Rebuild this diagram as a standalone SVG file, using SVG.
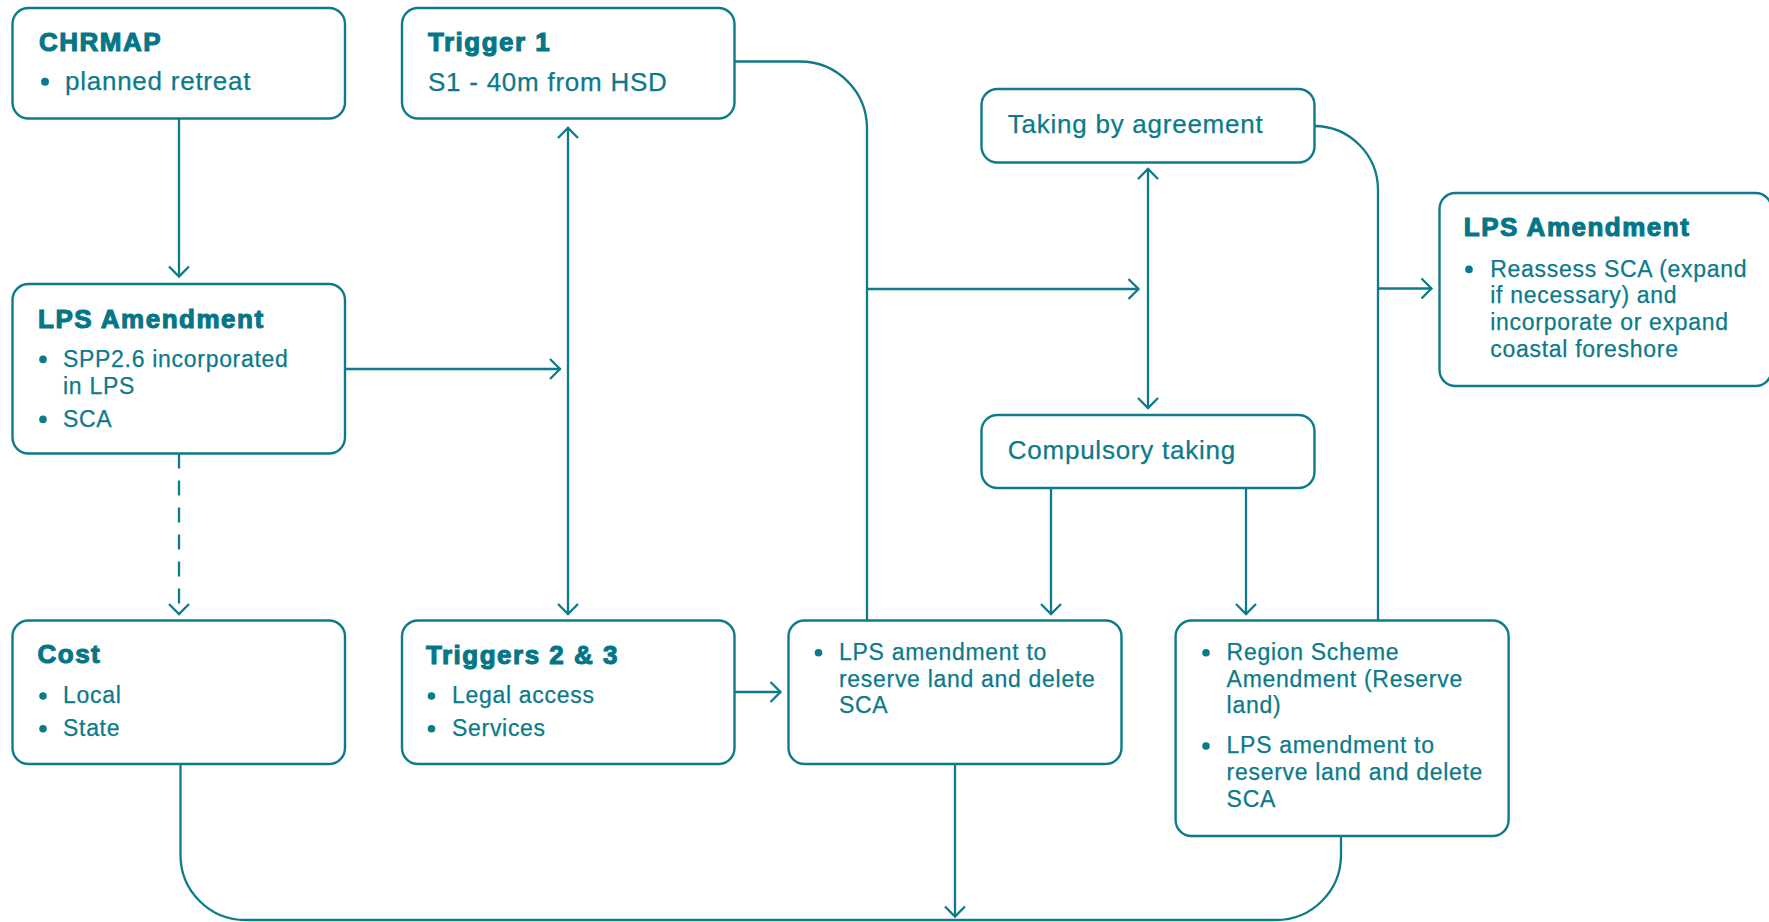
<svg xmlns="http://www.w3.org/2000/svg" width="1769" height="922" viewBox="0 0 1769 922">
<style>
.box{fill:#ffffff;stroke:#0e7b8b;stroke-width:2.4}
.ln{fill:none;stroke:#0e7b8b;stroke-width:2.3}
.title{font-family:"Liberation Sans",Arial,sans-serif;font-weight:700;font-size:26px;fill:#057688;stroke:#057688;stroke-width:1.1;letter-spacing:1.5px}
.big{font-family:"Liberation Sans",Arial,sans-serif;font-size:26px;fill:#0b7a8a;stroke:#0b7a8a;stroke-width:0.25;letter-spacing:0.75px}
.sm{font-family:"Liberation Sans",Arial,sans-serif;font-size:23px;fill:#0b7a8a;stroke:#0b7a8a;stroke-width:0.25;letter-spacing:0.7px}
.dot{fill:#0b7a8a}
</style>
<defs>
<marker id="arr" markerUnits="userSpaceOnUse" markerWidth="30" markerHeight="30" refX="0" refY="0" orient="auto-start-reverse" overflow="visible">
<path d="M-10.5,-10 L-0.5,0 L-10.5,10" fill="none" stroke="#0e7b8b" stroke-width="2.3"/>
</marker>
</defs>
<g id="connectors">
<path class="ln" d="M179,118.5 V277" marker-end="url(#arr)"/>
<path class="ln" d="M345,369 H560.5" marker-end="url(#arr)"/>
<path class="ln" d="M568,127.5 V614.5" marker-start="url(#arr)" marker-end="url(#arr)"/>
<path class="ln" d="M179,453.5 V614.5" stroke-dasharray="15 12" marker-end="url(#arr)"/>
<path class="ln" d="M734.5,692 H781" marker-end="url(#arr)"/>
<path class="ln" d="M734.5,61.5 H800 A67,67 0 0 1 867,128.5 V620.5"/>
<path class="ln" d="M867,289 H1139" marker-end="url(#arr)"/>
<path class="ln" d="M1148,168.5 V408.5" marker-start="url(#arr)" marker-end="url(#arr)"/>
<path class="ln" d="M1051,488 V614.5" marker-end="url(#arr)"/>
<path class="ln" d="M1246,488 V614.5" marker-end="url(#arr)"/>
<path class="ln" d="M1314,126 A64,64 0 0 1 1378,190 V620.5"/>
<path class="ln" d="M1378,288.5 H1432" marker-end="url(#arr)"/>
<path class="ln" d="M180.5,764 V855 A65,65 0 0 0 245.5,920 H1276 A65,65 0 0 0 1341,855 V836"/>
<path class="ln" d="M955,764 V917" marker-end="url(#arr)"/>
</g>
<g id="chrmap">
<rect class="box" x="12.5" y="8" width="332.5" height="110.5" rx="16"/>
<text class="title" x="39" y="50.7">CHRMAP</text>
<circle class="dot" cx="45" cy="81.7" r="4"/>
<text class="big" x="65" y="90">planned retreat</text>
</g>
<g id="trigger1">
<rect class="box" x="402" y="8" width="332.5" height="110.5" rx="16"/>
<text class="title" x="428" y="50.7">Trigger 1</text>
<text class="big" x="428" y="90.7">S1 - 40m from HSD</text>
</g>
<g id="lps-left">
<rect class="box" x="12.5" y="284" width="332.5" height="169.5" rx="16"/>
<text class="title" x="38" y="328.3">LPS Amendment</text>
<circle class="dot" cx="43" cy="359.4" r="3.8"/>
<text class="sm" x="63" y="366.7">SPP2.6 incorporated</text>
<text class="sm" x="63" y="394">in LPS</text>
<circle class="dot" cx="43" cy="419.4" r="3.8"/>
<text class="sm" x="63" y="426.7">SCA</text>
</g>
<g id="cost">
<rect class="box" x="12.5" y="620.5" width="332.5" height="143.5" rx="16"/>
<text class="title" x="37.5" y="663">Cost</text>
<circle class="dot" cx="43" cy="696" r="3.8"/>
<text class="sm" x="63" y="703.3">Local</text>
<circle class="dot" cx="43" cy="728.7" r="3.8"/>
<text class="sm" x="63" y="736">State</text>
</g>
<g id="triggers23">
<rect class="box" x="402" y="620.5" width="332.5" height="143.5" rx="16"/>
<text class="title" x="426" y="664">Triggers 2 &amp; 3</text>
<circle class="dot" cx="431.5" cy="696" r="3.8"/>
<text class="sm" x="452" y="703.3">Legal access</text>
<circle class="dot" cx="431.5" cy="728.7" r="3.8"/>
<text class="sm" x="452" y="736">Services</text>
</g>
<g id="lps-mid">
<rect class="box" x="788.5" y="620.5" width="333" height="143.5" rx="16"/>
<circle class="dot" cx="818.5" cy="652.7" r="3.8"/>
<text class="sm" x="839" y="660">LPS amendment to</text>
<text class="sm" x="839" y="686.7">reserve land and delete</text>
<text class="sm" x="839" y="713.3">SCA</text>
</g>
<g id="region">
<rect class="box" x="1175.6" y="620.5" width="333" height="215.5" rx="16"/>
<circle class="dot" cx="1206" cy="652.7" r="3.8"/>
<text class="sm" x="1226.6" y="660">Region Scheme</text>
<text class="sm" x="1226.6" y="686.7">Amendment (Reserve</text>
<text class="sm" x="1226.6" y="713.3">land)</text>
<circle class="dot" cx="1206" cy="746" r="3.8"/>
<text class="sm" x="1226.6" y="753.3">LPS amendment to</text>
<text class="sm" x="1226.6" y="780">reserve land and delete</text>
<text class="sm" x="1226.6" y="806.7">SCA</text>
</g>
<g id="taking">
<rect class="box" x="981.5" y="89" width="333" height="73.5" rx="16"/>
<text class="big" x="1007.8" y="132.7">Taking by agreement</text>
</g>
<g id="compulsory">
<rect class="box" x="981.5" y="415" width="333" height="73" rx="16"/>
<text class="big" x="1007.8" y="459">Compulsory taking</text>
</g>
<g id="lps-right">
<rect class="box" x="1439.5" y="193" width="332" height="193" rx="16"/>
<text class="title" x="1463.8" y="236">LPS Amendment</text>
<circle class="dot" cx="1469" cy="269.4" r="3.8"/>
<text class="sm" x="1490.3" y="276.7">Reassess SCA (expand</text>
<text class="sm" x="1490.3" y="303.3">if necessary) and</text>
<text class="sm" x="1490.3" y="330">incorporate or expand</text>
<text class="sm" x="1490.3" y="356.5">coastal foreshore</text>
</g>
</svg>
